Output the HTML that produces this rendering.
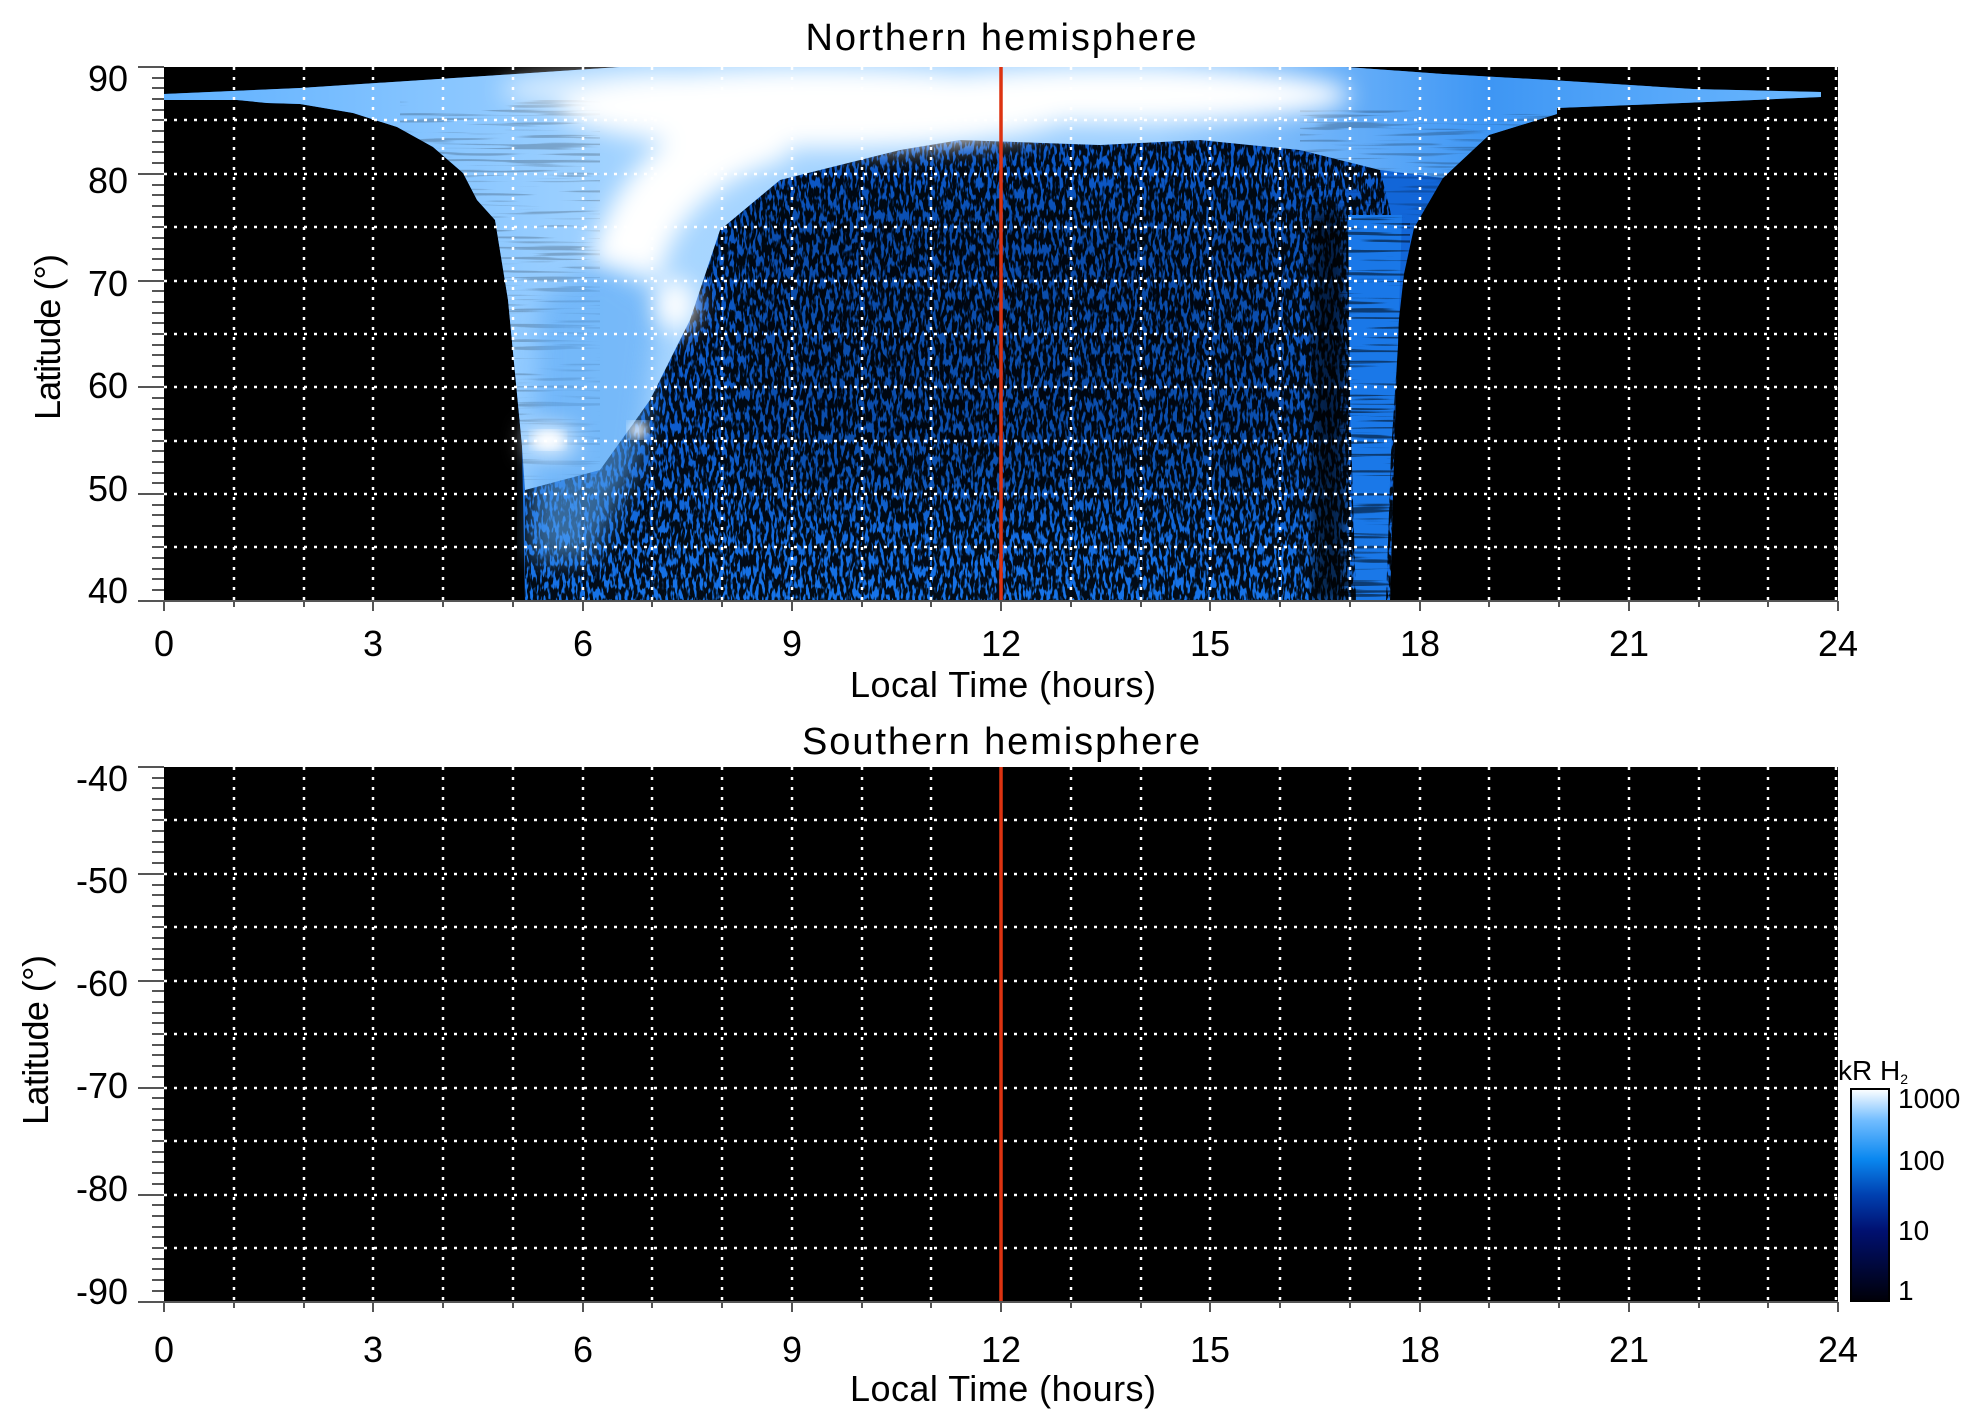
<!DOCTYPE html>
<html><head><meta charset="utf-8"><style>
html,body{margin:0;padding:0;background:#fff}
svg{display:block}
text{font-family:"Liberation Sans",Arial,sans-serif;fill:#000}
</style></head><body>
<svg width="1983" height="1423" viewBox="0 0 1983 1423" xmlns="http://www.w3.org/2000/svg">
<defs>
  <clipPath id="cpTop"><rect x="164" y="67" width="1674" height="534"/></clipPath>
  <clipPath id="cpInt"><polygon points="525,601 525,490 600,470 650,400 690,320 720,230 780,180 900,150 960,140 1100,145 1200,140 1300,150 1380,170 1400,250 1390,601"/></clipPath>
  <filter id="speck" x="0" y="0" width="100%" height="100%">
    <feTurbulence type="fractalNoise" baseFrequency="0.32 0.09" numOctaves="2" seed="7" result="n"/>
    <feColorMatrix type="matrix" values="0 0 0 0 0  0 0 0 0 0  0 0 0 0 0  9 0 0 0 -3.7"/>
  </filter>
  <filter id="streak" x="0" y="0" width="100%" height="100%">
    <feTurbulence type="fractalNoise" baseFrequency="0.01 0.3" numOctaves="2" seed="3" result="n"/>
    <feColorMatrix type="matrix" values="0 0 0 0 0  0 0 0 0 0  0 0 0 0 0  8 0 0 0 -4.4"/>
  </filter>
  <filter id="blur12"><feGaussianBlur stdDeviation="12"/></filter>
  <filter id="blur20"><feGaussianBlur stdDeviation="20"/></filter>
  <filter id="blur6"><feGaussianBlur stdDeviation="6"/></filter>
  <linearGradient id="cbar" x1="0" y1="1" x2="0" y2="0">
    <stop offset="0" stop-color="#000008"/>
    <stop offset="0.33" stop-color="#001070"/>
    <stop offset="0.5" stop-color="#0040b0"/>
    <stop offset="0.67" stop-color="#0a88f0"/>
    <stop offset="0.85" stop-color="#70bcff"/>
    <stop offset="1" stop-color="#ffffff"/>
  </linearGradient>
  <linearGradient id="botGlow" x1="0" y1="0" x2="0" y2="1">
    <stop offset="0" stop-color="#1e86ff" stop-opacity="0"/>
    <stop offset="0.7" stop-color="#1e86ff" stop-opacity="0.1"/>
    <stop offset="1" stop-color="#1e86ff" stop-opacity="0.6"/>
  </linearGradient>
  <linearGradient id="lightBand" x1="0" y1="0" x2="1" y2="0">
    <stop offset="0" stop-color="#5eb0ff"/>
    <stop offset="0.3" stop-color="#a8d6ff"/>
    <stop offset="0.6" stop-color="#9ccfff"/>
    <stop offset="0.8" stop-color="#3e96f4"/>
    <stop offset="1" stop-color="#6cb8ff"/>
  </linearGradient>
</defs>

<g clip-path="url(#cpTop)">
  <rect x="164" y="67" width="1674" height="534" fill="#000"/>
  <polygon fill="#1266d8" points="525,601 522,446 508,300 495,220 477,200 463,173 433,147 397,127 353,113 300,104 267,103 237,100 164,100 164,94 300,88 500,75 620,67 1346,67 1443,74 1550,80 1693,89 1821,92 1821,97 1732,101 1632,105 1557,108 1557,114 1489,135 1443,178 1414,228 1404,274 1396,346 1389,453 1384,601"/>
  <g clip-path="url(#cpInt)">
    <rect x="164" y="67" width="1674" height="534" fill="#0c58c8"/>
    <rect x="164" y="67" width="1674" height="534" fill="url(#botGlow)"/>
    <rect x="164" y="67" width="1674" height="534" filter="url(#speck)" opacity="0.9"/>
    <rect x="740" y="200" width="560" height="300" fill="#000" opacity="0.15" filter="url(#blur20)"/>
  </g>
  <polygon fill="url(#lightBand)" points="164,94 300,88 500,75 620,67 1346,67 1443,74 1550,80 1693,89 1821,92 1821,97 1732,101 1632,105 1557,108 1557,114 1489,135 1443,178 1380,170 1300,150 1200,140 1100,145 960,140 900,150 780,180 720,230 690,320 650,400 600,470 525,490 522,446 508,300 495,220 477,200 463,173 433,147 397,127 353,113 300,104 267,103 237,100 164,100"/>
  <g opacity="0.2">
    <rect x="400" y="100" width="200" height="380" filter="url(#streak)"/>
    <rect x="1300" y="110" width="260" height="120" filter="url(#streak)"/>
  </g>
  <path d="M530,560 L540,300 L600,260 L660,300 L640,460 L590,560 Z" fill="#5aa8f5" opacity="0.6" filter="url(#blur12)"/>
  <g filter="url(#blur12)" fill="#fff">
    <ellipse cx="820" cy="108" rx="260" ry="40"/>
    <ellipse cx="1120" cy="95" rx="230" ry="28"/>
    <ellipse cx="620" cy="90" rx="120" ry="20" opacity="0.6"/>
    <path d="M780,125 Q650,160 625,270" stroke="#fff" stroke-width="70" fill="none"/>
    <ellipse cx="675" cy="305" rx="20" ry="26"/>
    <ellipse cx="550" cy="441" rx="24" ry="14"/>
  </g>
  <ellipse cx="638" cy="430" rx="10" ry="8" fill="#fff" filter="url(#blur6)"/>
  <ellipse cx="548" cy="440" rx="16" ry="9" fill="#fff" filter="url(#blur6)"/>
  <rect x="1312" y="210" width="34" height="391" fill="#000" opacity="0.65" filter="url(#blur6)"/>
  <polygon points="1348,215 1402,215 1398,346 1391,453 1386,601 1356,601 1350,400" fill="#1a78e8"/>
  <rect x="1340" y="215" width="70" height="386" filter="url(#streak)" opacity="0.5"/>
</g>
<g stroke="#fff" stroke-width="2.5" stroke-dasharray="3 7" fill="none">
  <path d="M234,67V601M304,67V601M373,67V601M443,67V601M513,67V601M583,67V601M652,67V601M722,67V601M792,67V601M862,67V601M931,67V601M1071,67V601M1141,67V601M1210,67V601M1280,67V601M1350,67V601M1420,67V601M1489,67V601M1559,67V601M1629,67V601M1699,67V601M1768,67V601M1836,67V601"/>
  <path d="M164,120H1838M164,174H1838M164,227H1838M164,281H1838M164,334H1838M164,387H1838M164,441H1838M164,494H1838M164,547H1838"/>
</g>
<line x1="1001" y1="67" x2="1001" y2="601" stroke="#dd3311" stroke-width="3.5"/>

<rect x="164" y="767" width="1674" height="535" fill="#000"/>
<g stroke="#fff" stroke-width="2.5" stroke-dasharray="3 7" fill="none">
  <path d="M234,767V1302M304,767V1302M373,767V1302M443,767V1302M513,767V1302M583,767V1302M652,767V1302M722,767V1302M792,767V1302M862,767V1302M931,767V1302M1071,767V1302M1141,767V1302M1210,767V1302M1280,767V1302M1350,767V1302M1420,767V1302M1489,767V1302M1559,767V1302M1629,767V1302M1699,767V1302M1768,767V1302M1836,767V1302"/>
  <path d="M164,820H1838M164,874H1838M164,927H1838M164,981H1838M164,1034H1838M164,1088H1838M164,1141H1838M164,1195H1838M164,1248H1838"/>
</g>
<line x1="1001" y1="767" x2="1001" y2="1302" stroke="#dd3311" stroke-width="3.5"/>

<g stroke="#555" stroke-width="2">
  <path d="M164,601H1838M164,1302H1838"/>
  <path d="M138,67H164M138,174H164M138,281H164M138,387H164M138,494H164M138,601H164"/>
  <path d="M138,767H164M138,874H164M138,981H164M138,1088H164M138,1195H164M138,1302H164"/>
  <path d="M164,601v10M373,601v10M583,601v10M792,601v10M1001,601v10M1210,601v10M1420,601v10M1629,601v10M1838,601v10"/>
  <path d="M164,1302v10M373,1302v10M583,1302v10M792,1302v10M1001,1302v10M1210,1302v10M1420,1302v10M1629,1302v10M1838,1302v10"/>
  <path d="M234,601v6M304,601v6M443,601v6M513,601v6M652,601v6M722,601v6M862,601v6M931,601v6M1071,601v6M1141,601v6M1280,601v6M1350,601v6M1489,601v6M1559,601v6M1699,601v6M1768,601v6"/>
  <path d="M234,1302v6M304,1302v6M443,1302v6M513,1302v6M652,1302v6M722,1302v6M862,1302v6M931,1302v6M1071,1302v6M1141,1302v6M1280,1302v6M1350,1302v6M1489,1302v6M1559,1302v6M1699,1302v6M1768,1302v6"/>
</g>
<path stroke="#555" stroke-width="2" d="M152,78H164M152,88H164M152,99H164M152,110H164M152,120H164M152,131H164M152,142H164M152,152H164M152,163H164M152,185H164M152,195H164M152,206H164M152,217H164M152,227H164M152,238H164M152,249H164M152,259H164M152,270H164M152,291H164M152,302H164M152,313H164M152,323H164M152,334H164M152,345H164M152,355H164M152,366H164M152,377H164M152,398H164M152,409H164M152,419H164M152,430H164M152,441H164M152,451H164M152,462H164M152,473H164M152,483H164M152,505H164M152,515H164M152,526H164M152,537H164M152,547H164M152,558H164M152,569H164M152,579H164M152,590H164"/>
<path stroke="#555" stroke-width="2" d="M152,778H164M152,788H164M152,799H164M152,810H164M152,820H164M152,831H164M152,842H164M152,852H164M152,863H164M152,885H164M152,895H164M152,906H164M152,917H164M152,927H164M152,938H164M152,949H164M152,959H164M152,970H164M152,991H164M152,1002H164M152,1013H164M152,1023H164M152,1034H164M152,1045H164M152,1055H164M152,1066H164M152,1077H164M152,1098H164M152,1109H164M152,1120H164M152,1130H164M152,1141H164M152,1152H164M152,1162H164M152,1173H164M152,1184H164M152,1205H164M152,1216H164M152,1227H164M152,1237H164M152,1248H164M152,1259H164M152,1269H164M152,1280H164M152,1291H164"/>

<g font-size="36">
  <text x="1001" y="50" text-anchor="middle" textLength="391" font-size="38">Northern hemisphere</text>
  <text x="1001" y="754" text-anchor="middle" textLength="398" font-size="38">Southern hemisphere</text>
  <g text-anchor="end">
    <text x="128" y="91">90</text><text x="128" y="193">80</text><text x="128" y="296">70</text>
    <text x="128" y="398">60</text><text x="128" y="501">50</text><text x="128" y="603">40</text>
    <text x="128" y="791">-40</text><text x="128" y="893">-50</text><text x="128" y="996">-60</text>
    <text x="128" y="1098">-70</text><text x="128" y="1201">-80</text><text x="128" y="1304">-90</text>
  </g>
  <g text-anchor="middle">
    <text x="164" y="656">0</text><text x="373" y="656">3</text><text x="583" y="656">6</text>
    <text x="792" y="656">9</text><text x="1001" y="656">12</text><text x="1210" y="656">15</text>
    <text x="1420" y="656">18</text><text x="1629" y="656">21</text><text x="1838" y="656">24</text>
    <text x="164" y="1362">0</text><text x="373" y="1362">3</text><text x="583" y="1362">6</text>
    <text x="792" y="1362">9</text><text x="1001" y="1362">12</text><text x="1210" y="1362">15</text>
    <text x="1420" y="1362">18</text><text x="1629" y="1362">21</text><text x="1838" y="1362">24</text>
    <text x="1003" y="697" textLength="306">Local Time (hours)</text>
    <text x="1003" y="1401" textLength="306">Local Time (hours)</text>
  </g>
  <text transform="translate(60,337) rotate(-90)" text-anchor="middle" textLength="166">Latitude (°)</text>
  <text transform="translate(48,1040) rotate(-90)" text-anchor="middle" textLength="170">Latitude (°)</text>
</g>

<rect x="1851" y="1089" width="38" height="212" fill="url(#cbar)" stroke="#000" stroke-width="2"/>
<g font-size="28">
  <text x="1838" y="1080">kR H<tspan font-size="14" dy="4">2</tspan></text>
  <text x="1898" y="1108">1000</text>
  <text x="1898" y="1170">100</text>
  <text x="1898" y="1240">10</text>
  <text x="1898" y="1300">1</text>
</g>
</svg>
</body></html>
